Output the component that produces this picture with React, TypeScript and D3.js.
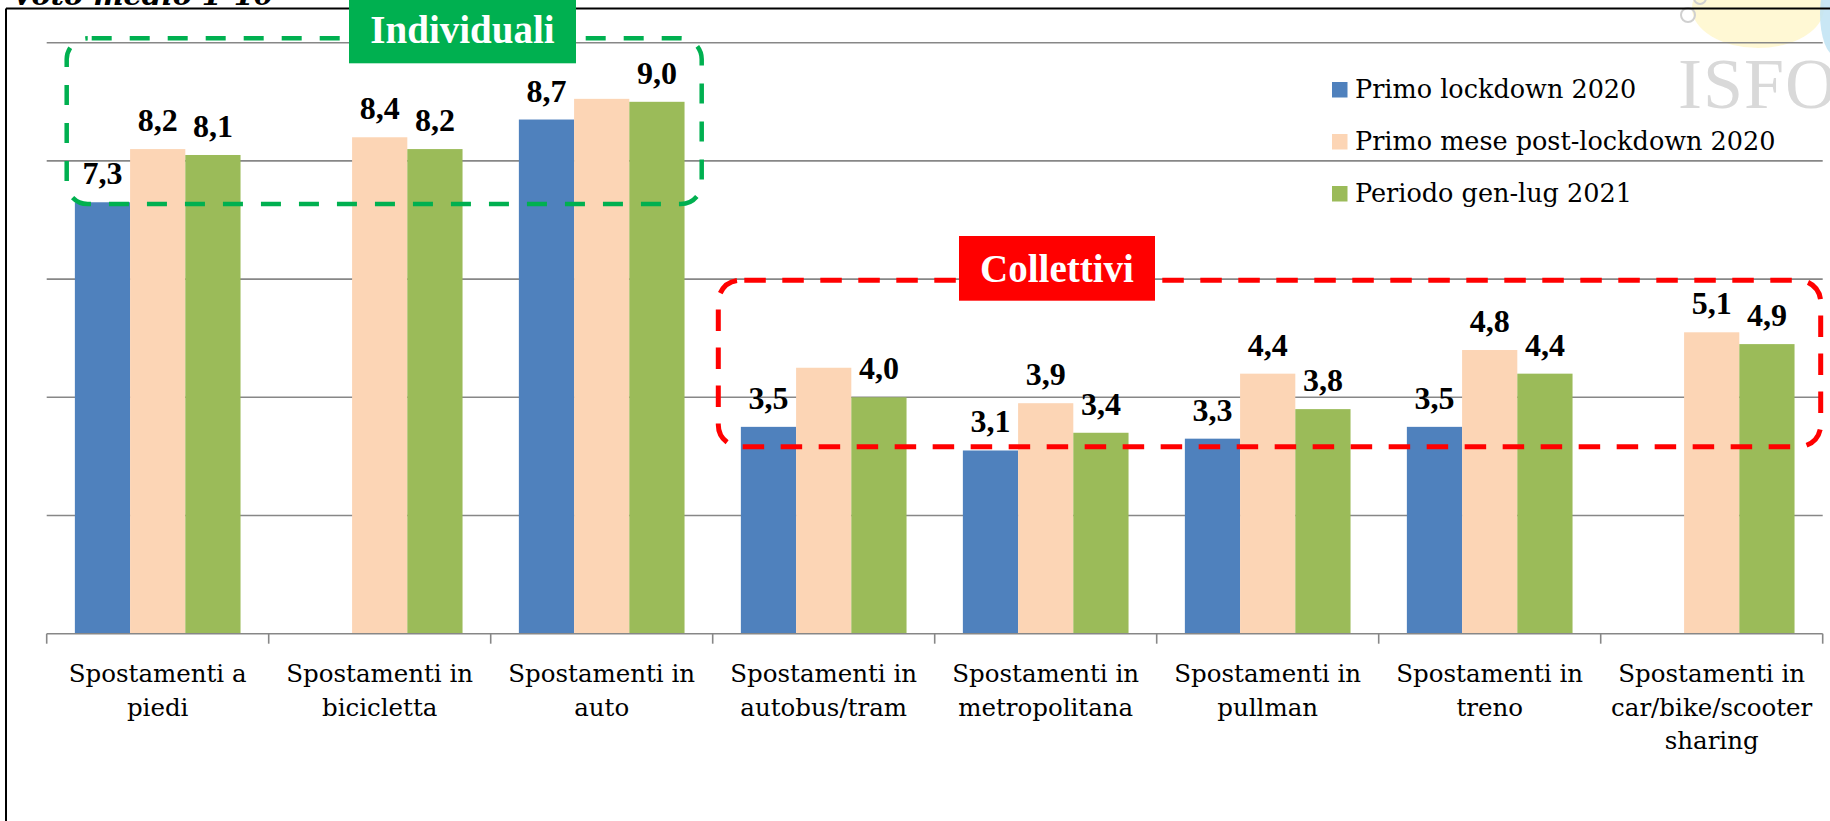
import React from "react";
import * as d3 from "d3";

// ---------- data ----------
const categories = [
  "Spostamenti a\npiedi",
  "Spostamenti in\nbicicletta",
  "Spostamenti in\nauto",
  "Spostamenti in\nautobus/tram",
  "Spostamenti in\nmetropolitana",
  "Spostamenti in\npullman",
  "Spostamenti in\ntreno",
  "Spostamenti in\ncar/bike/scooter\nsharing",
];
const seriesNames = [
  "Primo lockdown 2020",
  "Primo mese post-lockdown 2020",
  "Periodo gen-lug 2021",
];
const primoLockdown = [7.3, null, 8.7, 3.5, 3.1, 3.3, 3.5, null];
const postLockdown = [8.2, 8.4, 9.05, 4.5, 3.9, 4.4, 4.8, 5.1];
const genLug2021 = [8.1, 8.2, 9.0, 4.0, 3.4, 3.8, 4.4, 4.9];
// which value labels are printed in the original
const primoLabels = [true, false, true, true, true, true, true, false];
const postLabels = [true, true, false, false, true, true, true, true];
const genLabels = [true, true, true, true, true, true, true, true];
const yTicks = [0, 2, 4, 6, 8, 10];
const titleText = "Voto medio 1-10";
const groupLabels = ["Individuali", "Collettivi"];

const seriesValues = [primoLockdown, postLockdown, genLug2021];
const seriesLabels = [primoLabels, postLabels, genLabels];
const colors = ["#4f81bd", "#fcd5b5", "#9bbb59"];

const W = 1830;
const H = 821;
const plotLeft = 46.7;
const plotRight = 1822.7;
const plotTop = 42.7;
const plotBottom = 633.7;

const fmt = (v: number) => d3.format(".1f")(Math.round(v * 10) / 10).replace(".", ",");

export default function App() {
  const x0 = d3.scaleBand<string>().domain(categories).range([plotLeft, plotRight]).paddingInner(0).paddingOuter(0);
  const x1 = d3
    .scaleBand<number>()
    .domain([0, 1, 2])
    .range([0, x0.bandwidth()])
    .paddingInner(0)
    .paddingOuter(0.51);
  const y = d3.scaleLinear().domain([0, 10]).range([plotBottom, plotTop]);

  const gridColor = "#878787";
  const serifFont = "'DejaVu Serif', serif";
  const boldFont = "'Liberation Serif', serif";

  const boundaries = categories.map((c) => x0(c) as number).concat([plotRight]);

  return (
    <svg
      width={W}
      height={H}
      viewBox={`0 0 ${W} ${H}`}
      style={{ position: "absolute", left: 0, top: 0, display: "block", background: "#fff" }}
    >
      <rect x={0} y={0} width={W} height={H} fill="#fff" />

      {/* watermark logo */}
      <g>
        <ellipse cx={1758} cy={8} rx={66} ry={40} fill="#fff6c6" opacity={0.75} />
        <ellipse cx={1836} cy={14} rx={16} ry={42} fill="#bfe3f3" opacity={0.85} />
        <circle cx={1688} cy={15} r={7} fill="none" stroke="#d0d0d0" strokeWidth={2} />
        <circle cx={1700} cy={-2} r={6} fill="none" stroke="#d0d0d0" strokeWidth={2} />
        <text
          x={1678}
          y={108}
          fontFamily={boldFont}
          fontSize={72}
          fill="#d9d9d9"
          letterSpacing={1}
        >
          ISFORT
        </text>
      </g>

      {/* title (clipped at top) */}
      <text
        x={12}
        y={5}
        fontFamily={serifFont}
        fontWeight="bold"
        fontStyle="italic"
        fontSize={28.7}
        fill="#000"
      >
        {titleText}
      </text>

      {/* frame */}
      <line x1={6} y1={8.5} x2={W} y2={8.5} stroke="#000" strokeWidth={2} />
      <line x1={6} y1={8.5} x2={6} y2={H} stroke="#000" strokeWidth={2} />

      {/* gridlines */}
      {yTicks
        .filter((t) => t > 0)
        .map((t) => (
          <line
            key={"g" + t}
            x1={plotLeft}
            x2={plotRight}
            y1={y(t)}
            y2={y(t)}
            stroke={gridColor}
            strokeWidth={1.6}
          />
        ))}

      {/* bars */}
      {categories.map((c, ci) => (
        <g key={"cat" + ci} transform={`translate(${x0(c)},0)`}>
          {seriesValues.map((vals, si) => {
            const v = vals[ci];
            if (v == null) return null;
            return (
              <rect
                key={"b" + si}
                x={x1(si)}
                y={y(v)}
                width={x1.bandwidth()}
                height={y(0) - y(v)}
                fill={colors[si]}
              />
            );
          })}
        </g>
      ))}

      {/* x axis */}
      <line x1={plotLeft} x2={plotRight} y1={plotBottom} y2={plotBottom} stroke={gridColor} strokeWidth={1.6} />
      {boundaries.map((bx, i) => (
        <line key={"t" + i} x1={bx} x2={bx} y1={plotBottom} y2={plotBottom + 10} stroke={gridColor} strokeWidth={1.6} />
      ))}
      {categories.map((c, ci) => {
        const cx = (x0(c) as number) + x0.bandwidth() / 2;
        return (
          <text key={"xl" + ci} textAnchor="middle" fontFamily={serifFont} fontSize={24.5} fill="#000">
            {c.split("\n").map((line, li) => (
              <tspan key={li} x={cx} y={682 + li * 33.5}>
                {line}
              </tspan>
            ))}
          </text>
        );
      })}

      {/* value labels */}
      {categories.map((c, ci) =>
        seriesValues.map((vals, si) => {
          const v = vals[ci];
          if (v == null || !seriesLabels[si][ci]) return null;
          const cx = (x0(c) as number) + (x1(si) as number) + x1.bandwidth() / 2;
          return (
            <text
              key={"vl" + ci + "-" + si}
              x={cx}
              y={y(v) - 18}
              textAnchor="middle"
              fontFamily={boldFont}
              fontWeight="bold"
              fontSize={32}
              fill="#000"
            >
              {fmt(v)}
            </text>
          );
        })
      )}

      {/* group annotations */}
      <rect
        x={66.7}
        y={38.3}
        width={701.7 - 66.7}
        height={204 - 38.3}
        rx={21}
        ry={21}
        fill="none"
        stroke="#00b050"
        strokeWidth={4.5}
        strokeDasharray="20 18"
        strokeDashoffset={-4}
      />
      <rect x={349} y={0} width={576 - 349} height={63.3} fill="#00b050" />
      <text
        x={(349 + 576) / 2}
        y={43}
        textAnchor="middle"
        fontFamily={boldFont}
        fontWeight="bold"
        fontSize={39}
        fill="#fff"
      >
        {groupLabels[0]}
      </text>

      <rect
        x={718.3}
        y={280.3}
        width={1820.7 - 718.3}
        height={446.7 - 280.3}
        rx={22}
        ry={22}
        fill="none"
        stroke="#ff0000"
        strokeWidth={5}
        strokeDasharray="21.5 16.5"
        strokeDashoffset={-4}
      />
      <rect x={959} y={236} width={1155 - 959} height={300.7 - 236} fill="#ff0000" />
      <text
        x={(959 + 1155) / 2}
        y={282}
        textAnchor="middle"
        fontFamily={boldFont}
        fontWeight="bold"
        fontSize={39}
        fill="#fff"
      >
        {groupLabels[1]}
      </text>

      {/* legend */}
      {seriesNames.map((name, i) => {
        const base = 98 + i * 52;
        return (
          <g key={"lg" + i}>
            <rect x={1332} y={base - 16} width={15.5} height={15.5} fill={colors[i]} />
            <text x={1355} y={base} fontFamily={serifFont} fontSize={25.5} fill="#000">
              {name}
            </text>
          </g>
        );
      })}
    </svg>
  );
}
